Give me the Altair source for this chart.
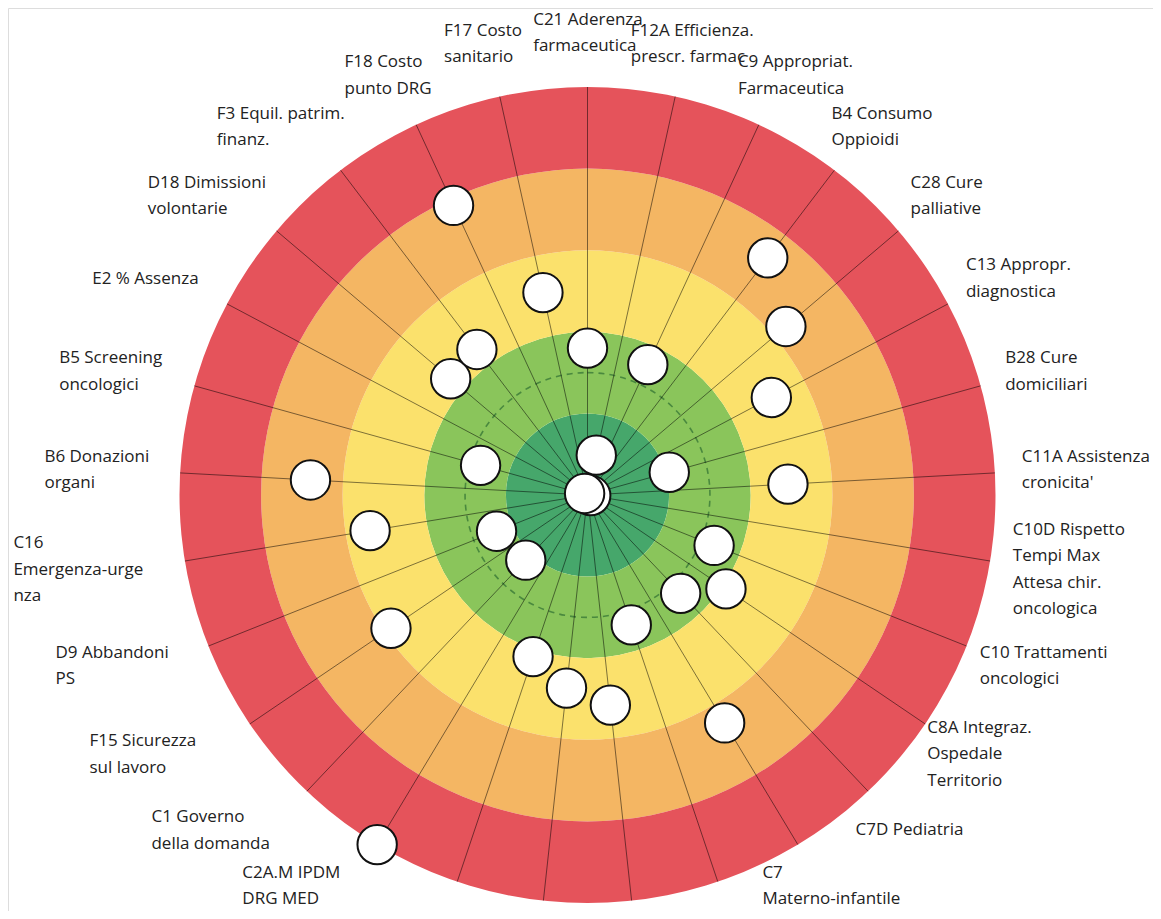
import math
import altair as alt
import pandas as pd

# ---------------- data ----------------
labels = [
    "C21 Aderenza\nfarmaceutica",
    "F12A Efficienza.\nprescr. farmac",
    "C9 Appropriat.\nFarmaceutica",
    "B4 Consumo\nOppioidi",
    "C28 Cure\npalliative",
    "C13 Appropr.\ndiagnostica",
    "B28 Cure\ndomiciliari",
    "C11A Assistenza\ncronicita'",
    "C10D Rispetto\nTempi Max\nAttesa chir.\noncologica",
    "C10 Trattamenti\noncologici",
    "C8A Integraz.\nOspedale\nTerritorio",
    "C7D Pediatria",
    "C7\nMaterno-infantile",
    "",
    "",
    "",
    "",
    "C2A.M IPDM\nDRG MED",
    "C1 Governo\ndella domanda",
    "F15 Sicurezza\nsul lavoro",
    "D9 Abbandoni\nPS",
    "C16\nEmergenza-urge\nnza",
    "B6 Donazioni\norgani",
    "B5 Screening\noncologici",
    "E2 % Assenza",
    "D18 Dimissioni\nvolontarie",
    "F3 Equil. patrim.\nfinanz.",
    "F18 Costo\npunto DRG",
    "F17 Costo\nsanitario",
]
scores = [1.80, 0.50, 1.76, 3.65, 3.19, 2.55, 1.04, 2.46, 0.04, 1.67,
          2.05, 1.66, 3.26, 1.68, 2.59, 2.38, 2.09, 5.00, 1.10, 2.91,
          1.20, 2.70, 3.40, 1.36, 0.04, 2.20, 2.24, 3.91, 2.54]
band_inner = [0, 1, 2, 3, 4]
band_outer = [1, 2, 3, 4, 5]
band_colors = ["#46A76B", "#8AC55B", "#FBE16C", "#F4B663", "#E5535B"]
target_ring = [1.5]

# ---------------- layout ----------------
UNIT = 81.6            # px per band
W, H = 1145, 903       # plot size
CX, CY = 579.5, 487.0  # centre of the target inside the plot
FS = 17
LH = 26.5
RY = 462.0             # vertical distance of label block centres (px)
LOW = -404.0           # lowest allowed line centre (px, y up)

N = len(labels)
angles = [2 * math.pi * k / N for k in range(N)]


def text_w(s):
    w = 0.0
    for ch in s:
        if ch in "il.,:;'!|j":
            w += 0.26
        elif ch in "ft":
            w += 0.34
        elif ch == "r":
            w += 0.41
        elif ch == " ":
            w += 0.26
        elif ch in "mM":
            w += 0.9
        elif ch in "wW":
            w += 0.82
        elif ch == "%":
            w += 0.82
        elif ch == "-":
            w += 0.32
        elif ch == "I":
            w += 0.29
        elif ch.isdigit():
            w += 0.57
        elif ch.isupper():
            w += 0.64
        else:
            w += 0.55
    return w * FS


xs = alt.Scale(domain=[-CX / UNIT, (W - CX) / UNIT], nice=False, zero=False)
ys = alt.Scale(domain=[-(H - CY) / UNIT, CY / UNIT], nice=False, zero=False)
rs = alt.Scale(type="linear", domain=[0, 5], range=[0, 5 * UNIT], zero=True, nice=False)

bands_df = pd.DataFrame({"inner": band_inner, "outer": band_outer,
                         "color": band_colors, "cx": 0.0, "cy": 0.0})
target_df = pd.DataFrame({"r": target_ring, "cx": 0.0, "cy": 0.0})

spokes_df = pd.DataFrame({
    "x0": [0.0] * N, "y0": [0.0] * N,
    "x1": [5 * math.sin(a) for a in angles],
    "y1": [5 * math.cos(a) for a in angles],
})

dots_df = pd.DataFrame({
    "label": [l.replace("\n", " ") for l in labels],
    "score": scores,
    "dx": [v * math.sin(a) for v, a in zip(scores, angles)],
    "dy": [v * math.cos(a) for v, a in zip(scores, angles)],
})

tx, ty = [], []
for lab, a in zip(labels, angles):
    s, c = math.sin(a), math.cos(a)
    lines = lab.split("\n") if lab else [""]
    n = len(lines)
    bw = max(text_w(line) for line in lines)
    sg = 1.0 if s > 1e-9 else (-1.0 if s < -1e-9 else 0.0)
    rx = 439.0 - 4.0 * sg
    shift = (35.0 - 15.0 * sg) * max(0.0, -c)
    cxp = rx * s + s * bw / 2 - shift
    cyp = RY * c                                   # y up, block centre
    first = cyp + (n - 1) * LH / 2                 # first line position
    last = first - (n - 1) * LH
    if last < LOW:
        first += LOW - last
    tx.append((cxp - bw / 2) / UNIT)
    ty.append(first / UNIT)
labels_df = pd.DataFrame({"text": labels, "tx": tx, "ty": ty})

# ---------------- chart ----------------
rings = alt.Chart(bands_df).mark_arc(theta=0, theta2=2 * math.pi, strokeWidth=0).encode(
    x=alt.X("cx:Q", scale=xs, axis=None),
    y=alt.Y("cy:Q", scale=ys, axis=None),
    radius=alt.Radius("outer:Q", scale=rs),
    radius2=alt.Radius2("inner:Q"),
    color=alt.Color("color:N", scale=None),
)

target = alt.Chart(target_df).mark_arc(
    theta=0, theta2=2 * math.pi, filled=False, stroke="#3E7E3A",
    strokeWidth=1.6, strokeDash=[6, 5], opacity=0.85
).encode(
    x=alt.X("cx:Q", scale=xs, axis=None),
    y=alt.Y("cy:Q", scale=ys, axis=None),
    radius=alt.Radius("r:Q", scale=rs),
)

spokes = alt.Chart(spokes_df).mark_rule(color="#000000", opacity=0.5, strokeWidth=1).encode(
    x=alt.X("x0:Q", scale=xs, axis=None),
    y=alt.Y("y0:Q", scale=ys, axis=None),
    x2="x1:Q",
    y2="y1:Q",
)

dots = alt.Chart(dots_df).mark_point(
    shape="circle", filled=True, fill="#FFFFFF", stroke="#111111",
    strokeWidth=2, size=1550, opacity=1
).encode(
    x=alt.X("dx:Q", scale=xs, axis=None),
    y=alt.Y("dy:Q", scale=ys, axis=None),
    tooltip=["label:N", "score:Q"],
)

texts = alt.Chart(labels_df).mark_text(
    align="left", baseline="middle", font="Open Sans", fontSize=FS,
    lineHeight=LH, color="#222222", lineBreak="\n"
).encode(
    x=alt.X("tx:Q", scale=xs, axis=None),
    y=alt.Y("ty:Q", scale=ys, axis=None),
    text="text:N",
)

chart = alt.layer(rings, target, spokes, dots, texts).properties(
    width=W, height=H, padding=0,
    autosize=alt.AutoSizeParams(type="none"),
).configure_view(strokeWidth=0).configure(background="#FFFFFF")

chart.save("out.html", embed_options={"renderer": "svg", "actions": False})
